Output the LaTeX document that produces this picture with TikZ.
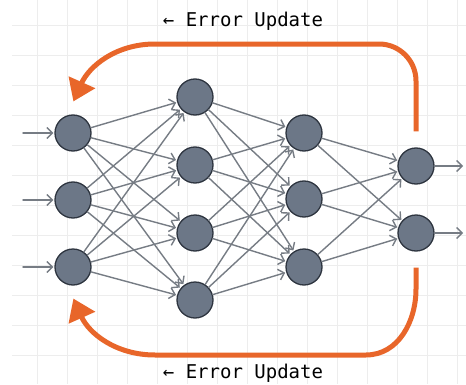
\documentclass[tikz,border=0pt]{standalone}
\usepackage{fontspec}
\setmonofont{DejaVu Sans Mono}
\usetikzlibrary{positioning,arrows.meta}
\definecolor{nodefill}{HTML}{6C7787}
\definecolor{nodeline}{HTML}{2E3540}
\definecolor{wire}{HTML}{767C84}
\definecolor{errcol}{HTML}{E8662A}
\tikzset{
  neuron/.style={circle,draw=nodeline,fill=nodefill,line width=1.3pt,minimum size=36pt,inner sep=0pt},
  errpath/.style={draw=errcol,line width=5pt,-{Triangle[length=21pt,width=28pt]}},
  errlabel/.style={font=\ttfamily\fontsize{19}{22}\selectfont,anchor=base,inner sep=0pt}
}
\begin{document}
\begin{tikzpicture}[x=1pt,y=1pt,shorten >=1pt,node distance=67pt,on grid,
  >={Straight Barb[length=5.5pt,width=11pt]}]
\useasboundingbox (0,0) rectangle (466,384);
\fill[white] (0,0) rectangle (466,384);
\begin{scope}[shift={(7,-1)}]
  \draw[gray!14,line width=0.8pt,step=30pt] (5,1) grid (459,385);
\end{scope}
				            \node[neuron] (i_1) at (73,251) {};
				            \node[neuron] (i_2) [below=of i_1] {};
				            \node[neuron] (i_3) [below=of i_2] {};
				            \node[neuron] (h_1) [above right=36pt and 122pt of i_1] {};
				            \node[neuron] (h_2) [below=68pt of h_1] {};
				            \node[neuron] (h_3) [below=68pt of h_2] {};
				            \node[neuron] (h_4) [below=67pt of h_3] {};
				            \node[neuron] (g_1) [right=231pt of i_1] {};
				            \node[neuron] (g_2) [below=66pt of g_1] {};
				            \node[neuron] (g_3) [below=68pt of g_2] {};
				            \node[neuron] (o_1) [below right=33pt and 112pt of g_1] {};
				            \node[neuron] (o_2) [below=of o_1] {};
				            \coordinate[left=50pt of i_1] (in_1);
				            \coordinate[left=50pt of i_2] (in_2);
				            \coordinate[left=50pt of i_3] (in_3);
				            \coordinate[right=48pt of o_1] (out_1);
				            \coordinate[right=48pt of o_2] (out_2);
				            \path[->,color=wire,line width=1.4pt,line cap=round]
				            (in_1) edge (i_1) (in_2) edge (i_2) (in_3) edge (i_3)
				            (i_1) edge (h_1) (i_1) edge (h_2) (i_1) edge (h_3) (i_1) edge (h_4)
				            (i_2) edge (h_1) (i_2) edge (h_2) (i_2) edge (h_3) (i_2) edge (h_4)
				            (i_3) edge (h_1) (i_3) edge (h_2) (i_3) edge (h_3) (i_3) edge (h_4)
				            (h_1) edge (g_1) (h_1) edge (g_2) (h_1) edge (g_3)
				            (h_2) edge (g_1) (h_2) edge (g_2) (h_2) edge (g_3)
				            (h_3) edge (g_1) (h_3) edge (g_2) (h_3) edge (g_3)
				            (h_4) edge (g_1) (h_4) edge (g_2) (h_4) edge (g_3)
				            (g_1) edge (o_1) (g_1) edge (o_2)
				            (g_2) edge (o_1) (g_2) edge (o_2)
				            (g_3) edge (o_1) (g_3) edge (o_2)
				            (o_1) edge (out_1) (o_2) edge (out_2);
				            % error feedback
				            \draw[errpath] ([yshift=16pt]o_1.north) -- (416,303) to[out=90,in=0] (379,340)
				              -- (155,340) to[out=180,in=66] ([yshift=12pt]i_1.north);
				            \draw[errpath] ([yshift=-16pt]o_2.south) -- (416,95) to[out=-90,in=0] (366,29)
				              -- (155,29) to[out=180,in=-66] ([yshift=-12pt]i_3.south);
				            \node[errlabel] (top_lbl) at (243,357) {← Error Update};
				            \node[errlabel] (bot_lbl) at (243,6) {← Error Update};
			            \end{tikzpicture}
\end{document}
